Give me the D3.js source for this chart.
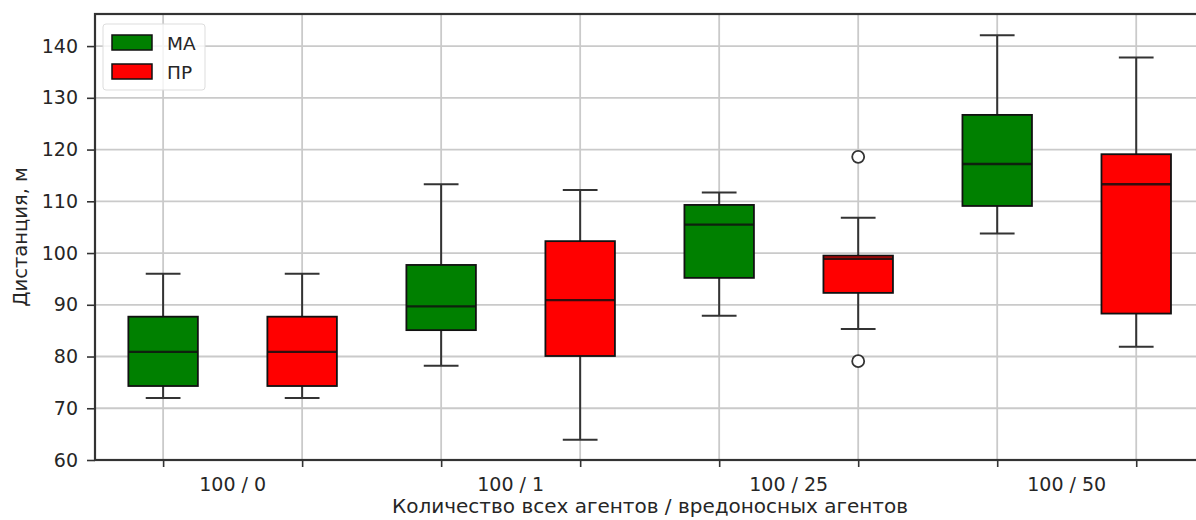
<!DOCTYPE html>
<html>
<head>
<meta charset="utf-8">
<script src="https://cdn.jsdelivr.net/npm/d3@7"></script>
<style>
  body { margin: 0; background: #fff; }
  text { font-family: "DejaVu Sans", sans-serif; fill: #262626; }
</style>
</head>
<body>
<div class="chart"></div>
<script>
// groups on the x axis
let groups = ["100 / 0", "100 / 1", "100 / 25", "100 / 50"];
let seriesNames = ["МА", "ПР"];
let seriesColors = ["#008000", "#ff0000"];

// box stats per group: [lowWhisker, q1, median, q3, highWhisker]
let maStats = [
  [72, 74.3, 80.9, 87.7, 96],
  [78.2, 85.1, 89.7, 97.7, 113.3],
  [87.9, 95.2, 105.5, 109.3, 111.7],
  [103.8, 109.1, 117.2, 126.7, 142.1]
];
let prStats = [
  [72, 74.3, 80.9, 87.7, 96],
  [63.9, 80.1, 90.9, 102.3, 112.2],
  [85.3, 92.3, 98.9, 99.5, 106.8],
  [81.9, 88.3, 113.3, 119.1, 137.8]
];
let prOutliers = [[], [], [79.1, 118.6], []];
let maOutliers = [[], [], [], []];

let yTicks = [60, 70, 80, 90, 100, 110, 120, 130, 140];

let svgWidth = 1196, svgHeight = 520;
let margin = { top: 14, right: 0, bottom: 60, left: 95 };
let width = svgWidth - margin.left - margin.right;
let height = svgHeight - margin.top - margin.bottom;

let svg = d3.select(".chart")
  .append("svg")
  .attr("width", svgWidth)
  .attr("height", svgHeight);

let chartGroup = svg.append("g")
  .attr("transform", `translate(${margin.left}, ${margin.top})`);

// each box gets its own slot (8 positions)
let boxes = [];
groups.forEach((g, i) => {
  boxes.push({ group: g, series: 0, stats: maStats[i], out: maOutliers[i], pos: i * 2 });
  boxes.push({ group: g, series: 1, stats: prStats[i], out: prOutliers[i], pos: i * 2 + 1 });
});

let xLinearScale = d3.scaleLinear()
  .domain([-0.49, 7.43])
  .range([0, width]);

let yLinearScale = d3.scaleLinear()
  .domain([60, 146.2])
  .range([height, 0]);

let boxW = xLinearScale(0.5) - xLinearScale(0);
let capW = boxW / 2;

// grid
chartGroup.append("g")
  .selectAll("line.hgrid")
  .data(yTicks)
  .enter()
  .append("line")
  .attr("x1", 0)
  .attr("x2", width + 10)
  .attr("y1", d => yLinearScale(d))
  .attr("y2", d => yLinearScale(d))
  .attr("stroke", "#cacaca")
  .attr("stroke-width", 1.8);

chartGroup.append("g")
  .selectAll("line.vgrid")
  .data(boxes)
  .enter()
  .append("line")
  .attr("x1", d => xLinearScale(d.pos))
  .attr("x2", d => xLinearScale(d.pos))
  .attr("y1", 0)
  .attr("y2", height)
  .attr("stroke", "#cacaca")
  .attr("stroke-width", 1.8);

// axes
let leftAxis = d3.axisLeft(yLinearScale)
  .tickValues(yTicks)
  .tickSize(8)
  .tickPadding(9);

let yAxis = chartGroup.append("g").call(leftAxis);
yAxis.select(".domain").remove();
yAxis.selectAll("line").attr("stroke", "#333").attr("stroke-width", 1.6);
yAxis.selectAll("text")
  .style("font-size", "19px")
  .attr("fill", "#262626");

let bottomAxis = d3.axisBottom(xLinearScale)
  .tickValues(boxes.map(d => d.pos))
  .tickFormat("")
  .tickSize(7);

let xAxis = chartGroup.append("g")
  .attr("transform", `translate(0, ${height})`)
  .call(bottomAxis);
xAxis.select(".domain").remove();
xAxis.selectAll("line").attr("stroke", "#333").attr("stroke-width", 1.6);

chartGroup.append("g")
  .selectAll("text.grp")
  .data(groups)
  .enter()
  .append("text")
  .attr("x", (d, i) => xLinearScale(i * 2 + 0.5))
  .attr("y", height + 31)
  .attr("text-anchor", "middle")
  .style("font-size", "19px")
  .text(d => d);

// boxes
let boxG = chartGroup.selectAll("g.box")
  .data(boxes)
  .enter()
  .append("g")
  .attr("transform", d => `translate(${xLinearScale(d.pos)}, 0)`);

boxG.append("line")
  .attr("x1", 0).attr("x2", 0)
  .attr("y1", d => yLinearScale(d.stats[4]))
  .attr("y2", d => yLinearScale(d.stats[3]))
  .attr("stroke", "#333").attr("stroke-width", 2);

boxG.append("line")
  .attr("x1", 0).attr("x2", 0)
  .attr("y1", d => yLinearScale(d.stats[1]))
  .attr("y2", d => yLinearScale(d.stats[0]))
  .attr("stroke", "#333").attr("stroke-width", 2);

boxG.append("line")
  .attr("x1", -capW / 2).attr("x2", capW / 2)
  .attr("y1", d => yLinearScale(d.stats[4]))
  .attr("y2", d => yLinearScale(d.stats[4]))
  .attr("stroke", "#333").attr("stroke-width", 2);

boxG.append("line")
  .attr("x1", -capW / 2).attr("x2", capW / 2)
  .attr("y1", d => yLinearScale(d.stats[0]))
  .attr("y2", d => yLinearScale(d.stats[0]))
  .attr("stroke", "#333").attr("stroke-width", 2);

boxG.append("rect")
  .attr("x", -boxW / 2)
  .attr("width", boxW)
  .attr("y", d => yLinearScale(d.stats[3]))
  .attr("height", d => yLinearScale(d.stats[1]) - yLinearScale(d.stats[3]))
  .attr("fill", d => seriesColors[d.series])
  .attr("stroke", "#111")
  .attr("stroke-width", 1.8);

boxG.append("line")
  .attr("x1", -boxW / 2).attr("x2", boxW / 2)
  .attr("y1", d => yLinearScale(d.stats[2]))
  .attr("y2", d => yLinearScale(d.stats[2]))
  .attr("stroke", "#111").attr("stroke-width", 2.4)
  .attr("stroke-opacity", 0.85);

boxG.selectAll("circle")
  .data(d => d.out)
  .enter()
  .append("circle")
  .attr("cx", 0)
  .attr("cy", d => yLinearScale(d))
  .attr("r", 6)
  .attr("fill", "#fff")
  .attr("stroke", "#333")
  .attr("stroke-width", 1.8);

// frame (right side runs off the picture)
chartGroup.append("rect")
  .attr("x", 0).attr("y", 0)
  .attr("width", width + 10).attr("height", height)
  .attr("fill", "none")
  .attr("stroke", "#333")
  .attr("stroke-width", 2.2);

// legend
let legend = chartGroup.append("g")
  .attr("transform", "translate(8, 10)");

legend.append("rect")
  .attr("width", 102).attr("height", 66)
  .attr("rx", 3)
  .attr("fill", "#fff").attr("fill-opacity", 0.8)
  .attr("stroke", "#ddd");

seriesNames.forEach((name, i) => {
  legend.append("rect")
    .attr("x", 9).attr("y", 11 + i * 29)
    .attr("width", 40).attr("height", 15)
    .attr("fill", seriesColors[i])
    .attr("stroke", "#111").attr("stroke-width", 1.5);
  legend.append("text")
    .attr("x", 64).attr("y", 26 + i * 29)
    .style("font-size", "18.5px")
    .text(name);
});

// axis labels
chartGroup.append("text")
  .attr("transform", "rotate(-90)")
  .attr("x", 0 - height / 2)
  .attr("y", -68)
  .attr("text-anchor", "middle")
  .style("font-size", "19.5px")
  .text("Дистанция, м");

chartGroup.append("text")
  .attr("x", 555)
  .attr("y", height + 53)
  .attr("text-anchor", "middle")
  .style("font-size", "20px")
  .text("Количество всех агентов / вредоносных агентов");
</script>
</body>
</html>
